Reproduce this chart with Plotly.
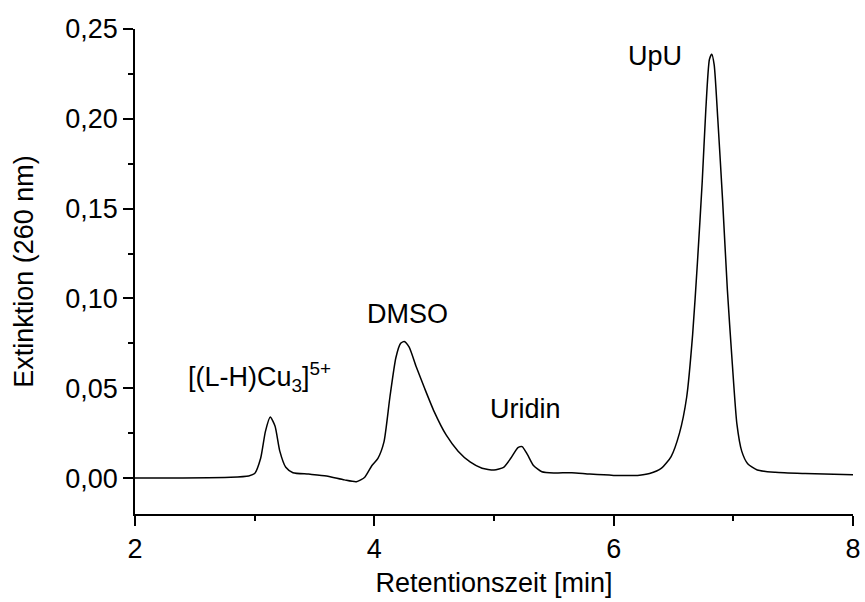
import plotly.graph_objects as go

# HPLC trace: retention time (min) vs. extinction at 260 nm
retention_time = [
    2.00, 2.40, 2.80, 2.95, 3.00, 3.05, 3.09, 3.13, 3.17, 3.21, 3.26, 3.32,
    3.45, 3.60, 3.75, 3.85, 3.92, 3.98, 4.03, 4.08, 4.13, 4.18, 4.22, 4.25,
    4.29, 4.35, 4.42, 4.50, 4.60, 4.70, 4.80, 4.90, 5.00, 5.08, 5.14, 5.20,
    5.235, 5.28, 5.33, 5.40, 5.50, 5.65, 5.80, 6.00, 6.20, 6.30, 6.40, 6.48,
    6.55, 6.61, 6.66, 6.70, 6.74, 6.77, 6.80, 6.82, 6.84, 6.87, 6.91, 6.95,
    6.99, 7.03, 7.07, 7.12, 7.20, 7.35, 7.60, 8.00,
]
extinction = [
    0.0000, 0.0001, 0.0005, 0.0012, 0.0025, 0.0110, 0.0260, 0.0340, 0.0290, 0.0150, 0.0060, 0.0030,
    0.0022, 0.0012, -0.0010, -0.0020, 0.0005, 0.0070, 0.0110, 0.0200, 0.0450, 0.0670, 0.0750, 0.0760,
    0.0730, 0.0620, 0.0500, 0.0370, 0.0240, 0.0150, 0.0090, 0.0055, 0.0045, 0.0060, 0.0110, 0.0170,
    0.0175, 0.0130, 0.0070, 0.0035, 0.0028, 0.0030, 0.0022, 0.0015, 0.0015, 0.0025, 0.0055, 0.0120,
    0.0250, 0.0450, 0.0800, 0.1200, 0.1650, 0.2050, 0.2330, 0.2360, 0.2300, 0.2000, 0.1550, 0.1050,
    0.0650, 0.0300, 0.0150, 0.0080, 0.0045, 0.0032, 0.0025, 0.0018,
]

# Peak labels
peak_labels = ["[(L-H)Cu<sub>3</sub>]<sup>5+</sup>", "DMSO", "Uridin", "UpU"]
label_x = [3.04, 4.28, 5.26, 6.345]
label_y = [0.056, 0.0916, 0.0387, 0.2347]

y_ticks = [0.00, 0.05, 0.10, 0.15, 0.20, 0.25]
x_ticks = [2, 4, 6, 8]

FONT = "Liberation Sans, Arial, sans-serif"
FS = 27

fig = go.Figure()
fig.add_trace(go.Scatter(
    x=retention_time, y=extinction, mode="lines",
    line=dict(color="black", width=1.5, shape="spline", smoothing=0.6),
    showlegend=False, hoverinfo="skip",
))

for txt, xv, yv in zip(peak_labels, label_x, label_y):
    fig.add_annotation(x=xv, y=yv, text=txt, showarrow=False,
                       font=dict(family=FONT, size=FS, color="black"),
                       xanchor="center", yanchor="middle")

fig.update_layout(
    width=865, height=602,
    margin=dict(l=135, r=12, t=29, b=88),
    paper_bgcolor="white", plot_bgcolor="white",
    separators=",.",
    font=dict(family=FONT, size=FS, color="black"),
)

fig.update_xaxes(
    range=[2, 8], tickvals=x_ticks, ticks="outside", ticklen=10, tickwidth=1.5,
    tickcolor="black", showline=True, linecolor="black", linewidth=1.5,
    showgrid=False, zeroline=False, automargin=False,
    minor=dict(ticks="outside", ticklen=5, tickwidth=1.5, tickcolor="black", dtick=1, tick0=2, showgrid=False),
    title=dict(text="Retentionszeit [min]", font=dict(size=FS), standoff=10),
    tickfont=dict(size=FS),
)
fig.update_yaxes(
    range=[-0.02, 0.25], tickvals=y_ticks, tickformat=".2f", ticks="outside", ticklen=10,
    tickwidth=1.5, tickcolor="black", showline=True, linecolor="black", linewidth=1.5,
    showgrid=False, zeroline=False, automargin=False,
    minor=dict(ticks="outside", ticklen=5, tickwidth=1.5, tickcolor="black", dtick=0.025, tick0=0, showgrid=False),
    title=dict(text="Extinktion (260 nm)", font=dict(size=FS), standoff=24),
    tickfont=dict(size=FS),
)

fig.write_html("out.html")
